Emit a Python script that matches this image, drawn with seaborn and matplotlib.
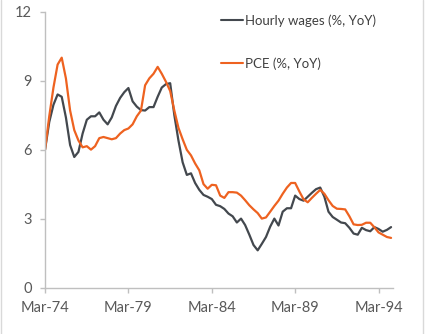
import matplotlib
matplotlib.use("Agg")
import matplotlib.pyplot as plt
from matplotlib.lines import Line2D
import numpy as np
import pandas as pd
import seaborn as sns

# Quarterly observations, Mar-74 to Dec-94
start = "1974-03-01"
n_quarters = 84

hourly_wages = [
    6.0, 7.2, 7.95, 8.4, 8.3, 7.4, 6.2, 5.68, 5.9, 6.7,
    7.3, 7.45, 7.45, 7.62, 7.3, 7.1, 7.4, 7.9, 8.25, 8.5,
    8.68, 8.1, 7.87, 7.72, 7.7, 7.85, 7.85, 8.3, 8.7, 8.85,
    8.89, 7.5, 6.4, 5.45, 4.9, 4.97, 4.55, 4.25, 4.03, 3.95,
    3.85, 3.6, 3.54, 3.42, 3.22, 3.1, 2.83, 3.0, 2.72, 2.3,
    1.85, 1.62, 1.9, 2.2, 2.65, 3.0, 2.7, 3.3, 3.45, 3.45,
    4.0, 3.85, 3.78, 3.95, 4.12, 4.28, 4.35, 3.95, 3.3, 3.07,
    2.95, 2.83, 2.8, 2.6, 2.35, 2.3, 2.6, 2.5, 2.45, 2.63,
    2.55, 2.43, 2.51, 2.63,
]

pce = [
    6.0, 7.45, 8.7, 9.7, 10.0, 9.1, 7.7, 6.85, 6.4, 6.1,
    6.15, 6.0, 6.15, 6.5, 6.55, 6.5, 6.45, 6.5, 6.7, 6.85,
    6.92, 7.1, 7.45, 7.7, 8.8, 9.1, 9.3, 9.6, 9.3, 8.95,
    8.55, 7.7, 6.95, 6.45, 5.99, 5.75, 5.4, 5.1, 4.5, 4.3,
    4.47, 4.45, 4.0, 3.9, 4.15, 4.15, 4.13, 4.0, 3.8, 3.58,
    3.4, 3.24, 3.0, 3.05, 3.3, 3.55, 3.78, 4.08, 4.35, 4.55,
    4.55, 4.18, 3.84, 3.71, 3.9, 4.08, 4.25, 4.08, 3.8, 3.55,
    3.43, 3.42, 3.4, 3.1, 2.75, 2.72, 2.73, 2.82, 2.82, 2.62,
    2.4, 2.3, 2.2, 2.16,
]

series_names = ["Hourly wages (%, YoY)", "PCE (%, YoY)"]
series_colors = ["#43484e", "#ee6220"]

y_ticks = [0, 3, 6, 9, 12]
x_tick_labels = ["Mar-74", "Mar-79", "Mar-84", "Mar-89", "Mar-94"]

dates = pd.date_range(start, periods=n_quarters, freq="3MS")
df = pd.DataFrame({
    "date": np.concatenate([dates, dates]),
    "value": hourly_wages + pce,
    "series": [series_names[0]] * n_quarters + [series_names[1]] * n_quarters,
})

sns.set_style("white")
plt.rcParams["font.family"] = ["Lato", "DejaVu Sans"]

fig = plt.figure(figsize=(4.25, 3.34), dpi=100)
ax = fig.add_axes([0.106, 0.139, 0.819, 0.826])

sns.lineplot(data=df, x="date", y="value", hue="series",
             palette=series_colors, linewidth=1.6, ax=ax)

ax.set_ylim(0, 12)
ax.set_yticks(y_ticks)
ax.set_xlim(pd.Timestamp(start), pd.Timestamp("1995-01-15"))
tick_dates = [pd.to_datetime(s, format="%b-%y") for s in x_tick_labels]
ax.set_xticks(tick_dates)
ax.set_xticklabels(x_tick_labels)
ax.set_xlabel("")
ax.set_ylabel("")

for side in ["top", "right"]:
    ax.spines[side].set_visible(False)
for side in ["left", "bottom"]:
    ax.spines[side].set_color("#bfbfbf")
    ax.spines[side].set_linewidth(1.0)

ax.tick_params(axis="both", which="both", length=3.5, width=1.0,
               color="#bfbfbf", labelcolor="#595959", labelsize=10.5,
               direction="out")
ax.tick_params(axis="y", pad=6)
ax.tick_params(axis="x", pad=6)
ax.yaxis.set_ticks_position("left")
ax.xaxis.set_ticks_position("bottom")

leg = ax.legend(loc="upper left", bbox_to_anchor=(0.49, 1.01),
                frameon=False, fontsize=9.5, handlelength=1.7,
                handletextpad=0.15, labelspacing=2.3, borderaxespad=0)
for txt in leg.get_texts():
    txt.set_color("#404040")
for h in leg.legend_handles:
    h.set_linewidth(1.5)

# thin frame edges on the sides of the figure
fig.add_artist(Line2D([0.002, 0.002], [0, 1], color="#d9d9d9", lw=1.0,
                      transform=fig.transFigure))
fig.add_artist(Line2D([0.995, 0.995], [0, 1], color="#d9d9d9", lw=1.0,
                      transform=fig.transFigure))

fig.savefig("out.png", dpi=100)
